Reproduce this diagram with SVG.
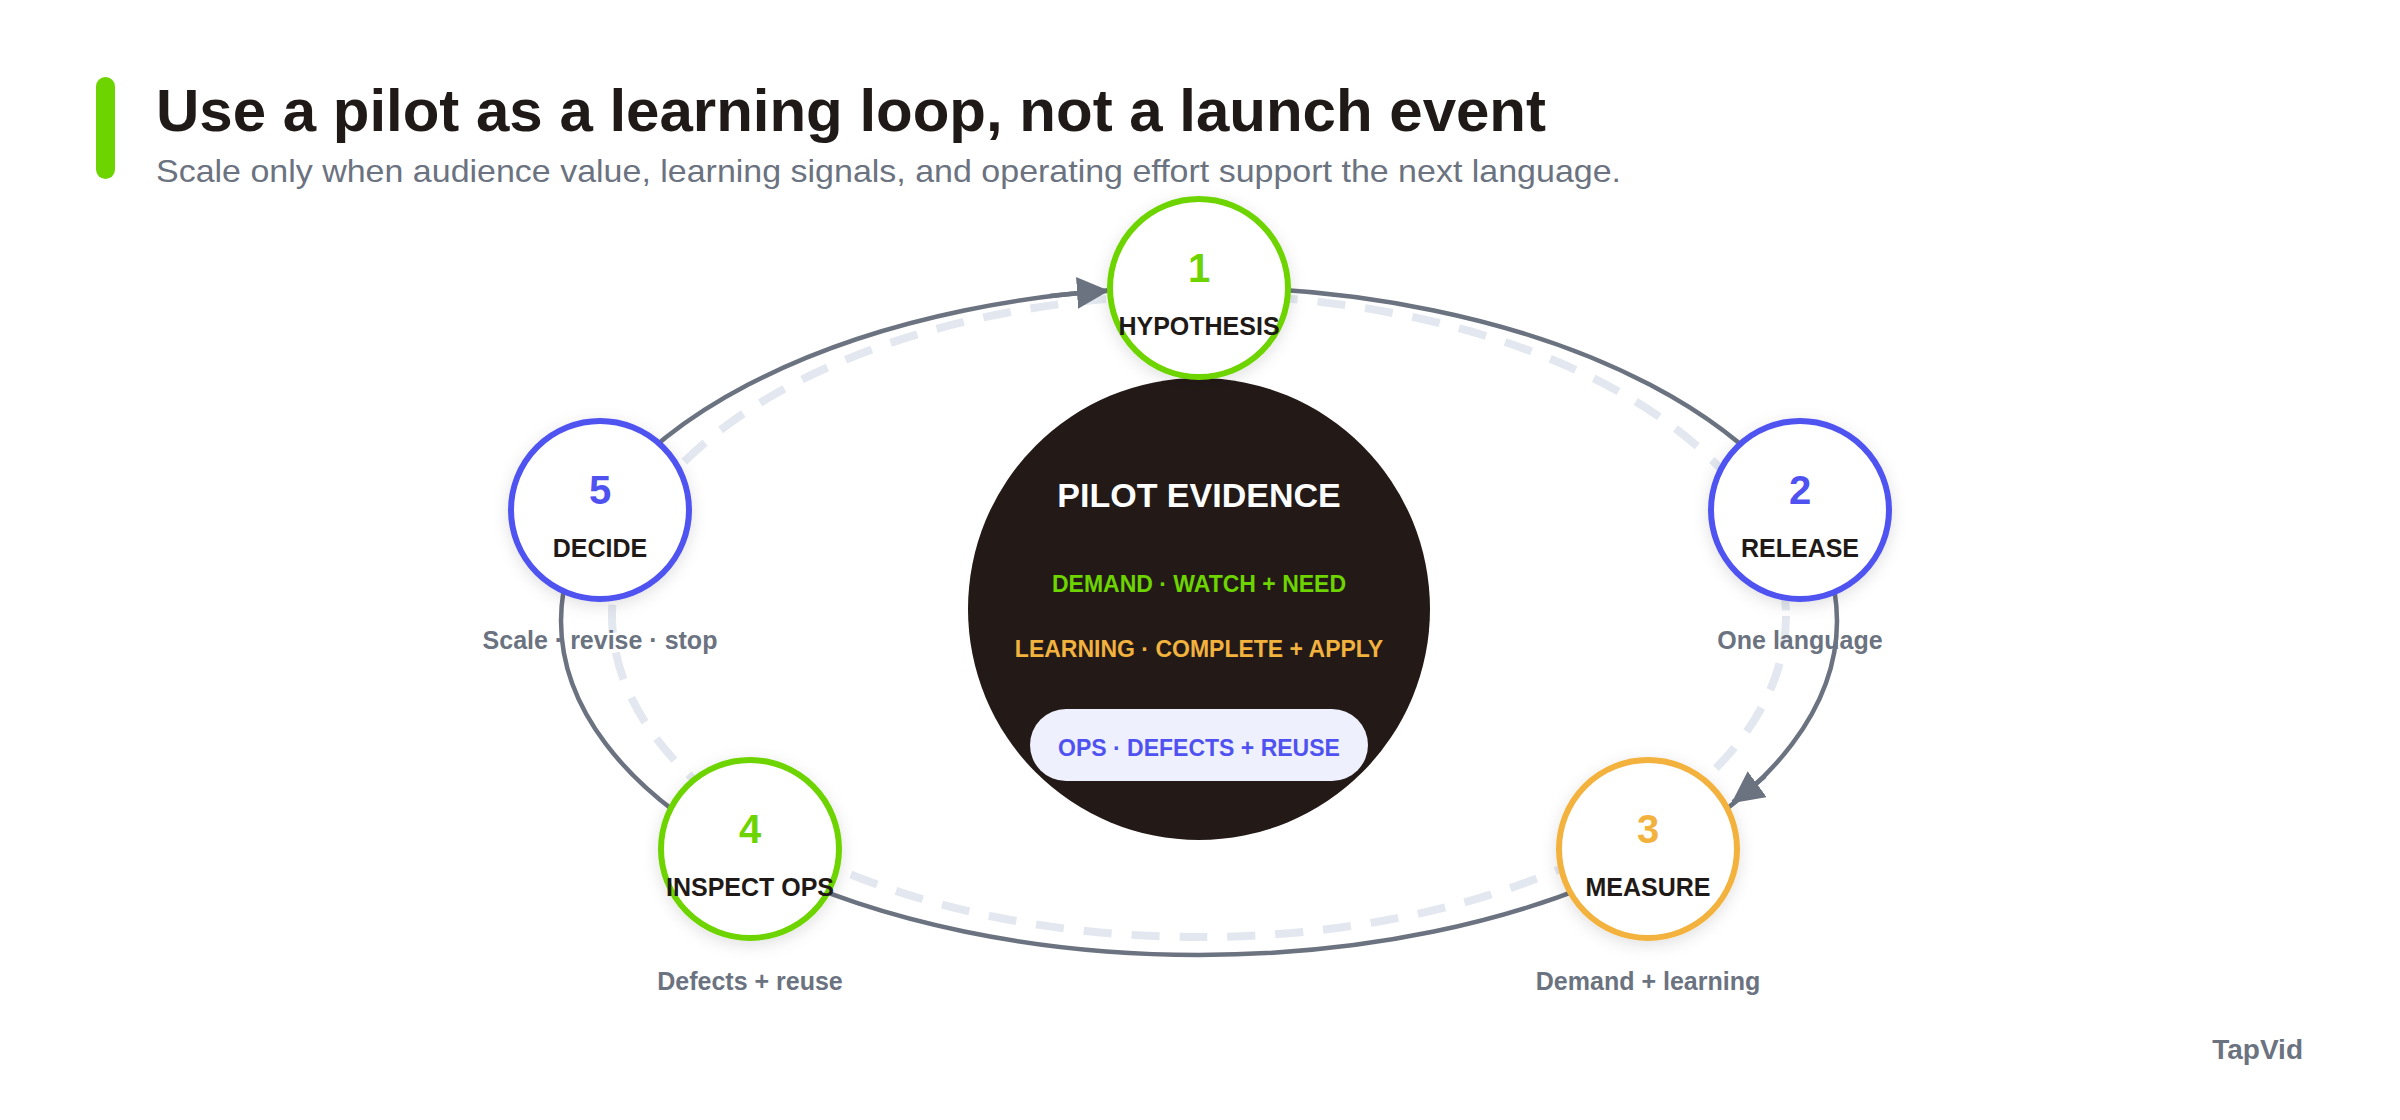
<svg xmlns="http://www.w3.org/2000/svg" width="2400" height="1120" viewBox="0 0 2400 1120">
<defs>
<style>
text{font-family:"Liberation Sans",Arial,sans-serif;font-weight:bold;text-anchor:middle}
.num{font-size:40px}
.lbl{font-size:25px;fill:#1f1a17}
.cap{font-size:25px;fill:#6b7280}
.node{fill:#fff;stroke-width:6;filter:url(#sh)}
.conn{fill:none;stroke:#6b7280;stroke-width:4.5}
</style>
<filter id="sh" x="-30%" y="-30%" width="160%" height="160%"><feDropShadow dx="0" dy="4" stdDeviation="8" flood-color="#000" flood-opacity="0.12"/></filter>
<marker id="ah" markerUnits="userSpaceOnUse" markerWidth="40" markerHeight="40" refX="30" refY="16" orient="auto"><path d="M0,0 L32,16 L0,32 Z" fill="#6b7280"/></marker>
</defs>
<rect width="2400" height="1120" fill="#fff"/>
<rect x="96" y="77" width="19" height="102" rx="9.5" fill="#6dd400"/>
<text x="156" y="131" style="font-size:60px;text-anchor:start;fill:#1f1a17" textLength="1390" lengthAdjust="spacingAndGlyphs">Use a pilot as a learning loop, not a launch event</text>
<text x="156" y="182" style="font-size:32px;font-weight:normal;text-anchor:start;fill:#6b7280" textLength="1465" lengthAdjust="spacingAndGlyphs">Scale only when audience value, learning signals, and operating effort support the next language.</text>
<g id="connectors">
<ellipse cx="1199" cy="616" rx="587" ry="321" fill="none" stroke="#e3e7ef" stroke-width="8" stroke-dasharray="28 20"/>
<ellipse cx="1199" cy="621" rx="638" ry="334" class="conn"/>
<path class="conn" d="M1050 296 A638 334 0 0 1 1107 291" marker-end="url(#ah)"/>
<path class="conn" d="M1765 776 A638 334 0 0 1 1733 802" marker-end="url(#ah)"/>
</g>
<g id="center">
<circle cx="1199" cy="609" r="231" fill="#231a18"/>
<text x="1199" y="507" style="font-size:34px;fill:#fff">PILOT EVIDENCE</text>
<text x="1199" y="592" style="font-size:23px;fill:#6dd400">DEMAND · WATCH + NEED</text>
<text x="1199" y="657" style="font-size:23px;fill:#f2b23e">LEARNING · COMPLETE + APPLY</text>
<rect x="1030" y="709" width="338" height="72" rx="36" fill="#eef0fd"/>
<text x="1199" y="756" style="font-size:23px;fill:#4f52f0">OPS · DEFECTS + REUSE</text>
</g>
<g id="n1"><circle cx="1199" cy="288" r="89" class="node" stroke="#6dd400"/><text x="1199" y="282" class="num" fill="#6dd400">1</text><text x="1199" y="335" class="lbl">HYPOTHESIS</text></g>
<g id="n2"><circle cx="1800" cy="510" r="89" class="node" stroke="#4f52f0"/><text x="1800" y="504" class="num" fill="#4f52f0">2</text><text x="1800" y="557" class="lbl">RELEASE</text><text x="1800" y="649" class="cap">One language</text></g>
<g id="n3"><circle cx="1648" cy="849" r="89" class="node" stroke="#f2b23e"/><text x="1648" y="843" class="num" fill="#f2b23e">3</text><text x="1648" y="896" class="lbl">MEASURE</text><text x="1648" y="990" class="cap">Demand + learning</text></g>
<g id="n4"><circle cx="750" cy="849" r="89" class="node" stroke="#6dd400"/><text x="750" y="843" class="num" fill="#6dd400">4</text><text x="750" y="896" class="lbl">INSPECT OPS</text><text x="750" y="990" class="cap">Defects + reuse</text></g>
<g id="n5"><circle cx="600" cy="510" r="89" class="node" stroke="#4f52f0"/><text x="600" y="504" class="num" fill="#4f52f0">5</text><text x="600" y="557" class="lbl">DECIDE</text><text x="600" y="649" class="cap">Scale · revise · stop</text></g>
<text x="2303" y="1059" style="font-size:28px;fill:#6b7280;text-anchor:end">TapVid</text>
</svg>
